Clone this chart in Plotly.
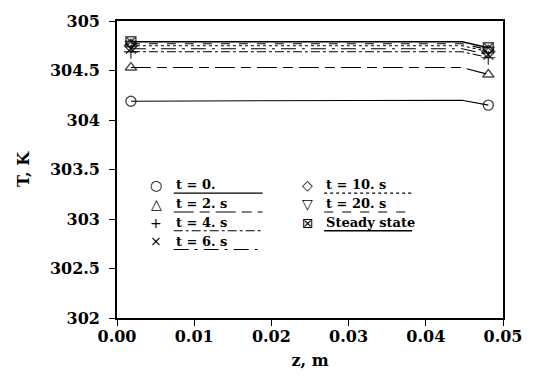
import plotly.graph_objects as go

# ---- data ----
z = [0.0018, 0.0447, 0.0481]
T_t0 = [304.19, 304.20, 304.15]
T_t2 = [304.53, 304.53, 304.46]
T_t4 = [304.69, 304.69, 304.63]
T_t6 = [304.72, 304.72, 304.66]
T_t10 = [304.75, 304.75, 304.69]
T_t20 = [304.77, 304.77, 304.71]
T_ss = [304.79, 304.79, 304.73]
labels = ["t = 0.", "t = 2. s", "t = 4. s", "t = 6. s", "t = 10. s", "t = 20. s", "Steady state"]
x_ticks = [0.00, 0.01, 0.02, 0.03, 0.04, 0.05]
y_ticks = [302, 302.5, 303, 303.5, 304, 304.5, 305]
y_tick_text = ["302", "302.5", "303", "303.5", "304", "304.5", "305"]

series = [T_t0, T_t2, T_t4, T_t6, T_t10, T_t20, T_ss]
symbols = ["circle-open", "triangle-up-open", "cross-thin-open", "x-thin-open",
           "diamond-open", "triangle-down-open", "square-x-open"]
dashes = ["solid", "20px,6px,10px,6px", "dashdot", "longdashdot", "dot", "dash", "solid"]
widths = [1.1, 1.1, 1.1, 1.1, 1.1, 1.1, 1.6]
legend_glyphs = ["○", "△", "+", "×", "◇", "▽", "⊠"]

FONT = "DejaVu Serif"

fig = go.Figure()
for vals, sym, dsh, w, lab in zip(series, symbols, dashes, widths, labels):
    fig.add_trace(go.Scatter(
        x=z, y=vals, mode="lines+markers", name=lab,
        line=dict(color="black", width=w, dash=dsh),
        marker=dict(symbol=sym, size=[10, 0, 10], color="black",
                    line=dict(color="black", width=1.4)),
        showlegend=False,
    ))

# plot-area geometry in pixels (for the hand-drawn legend)
L, R, TOP, BOT = 117, 512, 13, 321
W, H = 534, 379


def px(x, y):
    return (x - L) / (R - L), (BOT - y) / (BOT - TOP)


# ---- manual legend: glyph, text, line sample underneath ----
rows = [183, 202.5, 222, 241.5]
cols = [(157, 175, 266), (312, 329, 419)]
placement = [(0, 0), (0, 1), (0, 2), (0, 3), (1, 0), (1, 1), (1, 2)]
for i, (c, r) in enumerate(placement):
    mx, tx, ux = cols[c]
    y = rows[r]
    gx, gy = px(mx, y)
    fig.add_annotation(x=gx, y=gy, xref="paper", yref="paper", text=legend_glyphs[i],
                       showarrow=False, xanchor="center", yanchor="middle",
                       font=dict(family="DejaVu Sans", size=14, color="black"))
    ax, ay = px(tx, y)
    fig.add_annotation(x=ax, y=ay, xref="paper", yref="paper", text=labels[i],
                       showarrow=False, xanchor="left", yanchor="middle",
                       font=dict(family=FONT, size=13, color="black", weight="bold"))
    x0, y0 = px(tx, y + 8.5)
    x1, _ = px(ux, y + 8.5)
    fig.add_shape(type="line", xref="paper", yref="paper", x0=x0, x1=x1, y0=y0, y1=y0,
                  line=dict(color="black", width=widths[i], dash=dashes[i]))

fig.update_layout(
    width=W, height=H,
    margin=dict(l=L, r=W - R, t=TOP, b=H - BOT),
    plot_bgcolor="white", paper_bgcolor="white",
    font=dict(family=FONT, size=16, color="black"),
    xaxis=dict(range=[0, 0.05], tickvals=x_ticks, tickformat=".2f",
               ticks="outside", ticklen=6, tickwidth=1.2, tickcolor="black",
               showline=True, linecolor="black", linewidth=1.6, mirror=True,
               showgrid=False, zeroline=False, ticklabelstandoff=-3,
               tickfont=dict(family=FONT, size=16, weight="bold"),
               title=dict(text="z, m", standoff=10,
                          font=dict(family=FONT, size=16, weight="bold"))),
    yaxis=dict(range=[302, 305], tickvals=y_ticks, ticktext=y_tick_text,
               ticks="outside", ticklen=6, tickwidth=1.2, tickcolor="black",
               showline=True, linecolor="black", linewidth=1.6, mirror=True,
               showgrid=False, zeroline=False, ticklabelstandoff=6,
               tickfont=dict(family=FONT, size=16, weight="bold"),
               title=dict(text="T, K", standoff=16,
                          font=dict(family=FONT, size=16, weight="bold"))),
)

fig.write_html("out.html")
